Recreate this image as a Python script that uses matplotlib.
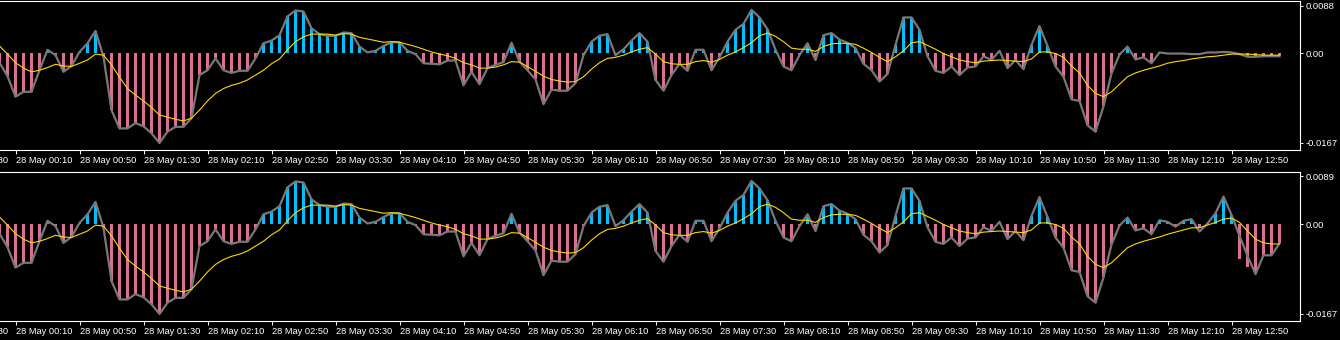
import numpy as np
import matplotlib
matplotlib.use('Agg')
import matplotlib.pyplot as plt

# MACD histogram on 5 min bars, 28 May 00:00 .. 13:20 (values in 1e-4)
# first 145 bars (00:00 .. 11:50) are the same in both windows
hist_head = [
    -18, -43, -81, -72, -72, -32, 6, -4, -35, -24,
    2, 18, 41, -7, -106, -140, -140, -130, -136, -149,
    -167, -146, -137, -137, -121, -41, -32, -10, -32, -37,
    -33, -33, -10, 18, 23, 33, 68, 79, 77, 46,
    35, 32, 32, 38, 37, 12, 1, 4, 13, 20,
    20, 4, -2, -19, -20, -21, -14, -14, -60, -35,
    -58, -28, -22, -17, 19, -16, -32, -49, -95, -68,
    -70, -70, -56, -4, 21, 32, 35, -4, 7, 23,
    37, 21, -50, -70, -41, -20, -33, 6, 6, -32,
    -8, 21, 43, 54, 80, 66, 44, 6, -25, -32,
    -4, 18, -13, 33, 37, 25, 19, 9, -20, -32,
    -53, -39, 15, 66, 66, 43, -6, -33, -37, -25,
    -41, -27, -25, -6, -13, 4, -28, -13, -30, 15,
    50, 13, -25, -44, -86, -89, -134, -146, -99, -38,
    -3, 12, -12, -8, -19,
]
signal_head = [
    13, -2, -18, -28, -35, -32, -27, -21, -24, -25,
    -19, -13, -2, -4, -22, -45, -66, -78, -89, -101,
    -115, -119, -123, -126, -121, -106, -89, -75, -66, -60,
    -56, -50, -41, -32, -20, -11, 6, 21, 30, 35,
    35, 35, 33, 36, 35, 29, 26, 23, 20, 21,
    20, 16, 12, 7, 2, -2, -5, -10, -18, -22,
    -28, -28, -26, -22, -16, -17, -25, -34, -43, -49,
    -52, -54, -53, -44, -30, -18, -10, -8, -4, 2,
    7, 10, -2, -16, -20, -21, -21, -16, -14, -17,
    -12, -4, 2, 10, 19, 32, 37, 31, 21, 9,
    7, 7, 3, 12, 17, 18, 18, 16, 9, 1,
    -8, -16, -7, 4, 19, 21, 14, 7, -1, -7,
    -13, -16, -18, -15, -14, -13, -14, -15, -16, -11,
    2, 2, -1, -8, -24, -37, -60, -75, -81, -72,
    -58, -44, -37, -32, -28,
]

# last 16 bars (11:55 .. 13:20)
hist_tail_top = [1, -1, -1, -1, -2, -2, 1, 1, 2, 1, -2, -7, -7, -6, -6, -6]
signal_tail_top = [-24, -19, -16, -14, -11, -9, -7, -6, -4, -2, -2, -2, -3, -4, -4, -4]

hist_tail_bot = [7, 4, -5, 6, 9, -8, 1, 20, 51, 17, -65, -80, -93, -58, -58, -36]
line_tail_bot = [7, 4, -5, 6, 9, -14, 1, 20, 51, 17, -22, -59, -93, -58, -58, -36]
signal_tail_bot = [-24, -19, -15, -11, -7, -7, -2, 3, 9, 11, 3, -13, -28, -35, -37, -37]

time_labels = ['28 May 00:10', '28 May 00:50', '28 May 01:30', '28 May 02:10',
               '28 May 02:50', '28 May 03:30', '28 May 04:10', '28 May 04:50',
               '28 May 05:30', '28 May 06:10', '28 May 06:50', '28 May 07:30',
               '28 May 08:10', '28 May 08:50', '28 May 09:30', '28 May 10:10',
               '28 May 10:50', '28 May 11:30', '28 May 12:10', '28 May 12:50']
prev_label = '27 May 23:30'

yticks_top = [0.0088, 0.0, -0.0167]
ylabels_top = ['0.0088', '0.00', '-0.0167']
yticks_bot = [0.0089, 0.0, -0.0167]
ylabels_bot = ['0.0089', '0.00', '-0.0167']

POS_CLR = '#00BFFF'
NEG_CLR = '#DB7093'
LINE_CLR = '#787878'
SIG_CLR = '#FFD700'
FG = 'white'
XLAB_SIZE = 6.7

plt.rcParams['font.family'] = ['Liberation Sans', 'DejaVu Sans']

# bar index, 0 = 28 May 00:10
x = np.arange(-2, 159)
tick_pos = np.arange(0, 8 * len(time_labels), 8)


def draw_panel(ax, hist, line, signal, yticks, ylabels):
    hist = np.array(hist) * 1e-4
    line = np.array(line) * 1e-4
    signal = np.array(signal) * 1e-4

    ax.set_facecolor('black')
    colors = [POS_CLR if v > 0 else NEG_CLR for v in hist]
    ax.bar(x, hist, width=0.32, color=colors, antialiased=False, zorder=1)
    ax.plot(x, line, color=LINE_CLR, linewidth=1.6, zorder=2)
    ax.plot(x, signal, color=SIG_CLR, linewidth=0.8, zorder=3)

    ax.set_xlim(-15.5 / 8, (1300 - 15.5) / 8)
    ax.set_ylim(-0.0180, 0.00965)

    for side in ['top', 'right', 'bottom']:
        ax.spines[side].set_color(FG)
        ax.spines[side].set_linewidth(0.8)
    ax.spines['left'].set_visible(False)

    ax.yaxis.tick_right()
    ax.set_yticks(yticks)
    ax.set_yticklabels(ylabels)
    ax.tick_params(axis='y', colors=FG, length=2.5, width=0.7, pad=1.5, labelsize=6.8)

    ax.set_xticks(tick_pos)
    ax.set_xticklabels(time_labels, ha='left')
    ax.tick_params(axis='x', colors=FG, length=3, width=0.7, pad=1.2, labelsize=XLAB_SIZE)

    # label of the tick just left of the window, partly cut off
    ax.annotate(prev_label, xy=(-8, 0), xycoords=ax.get_xaxis_transform(),
                xytext=(0, -(3 + 1.2)), textcoords='offset points',
                ha='left', va='top', fontsize=XLAB_SIZE, color=FG, annotation_clip=False)


fig = plt.figure(figsize=(13.4, 3.4), dpi=100, facecolor='black')
ax1 = fig.add_axes([0, 190 / 340, 1300 / 1340, 149 / 340])
ax2 = fig.add_axes([0, 19 / 340, 1300 / 1340, 149 / 340])

draw_panel(ax1, hist_head + hist_tail_top, hist_head + hist_tail_top,
           signal_head + signal_tail_top, yticks_top, ylabels_top)
draw_panel(ax2, hist_head + hist_tail_bot, hist_head + line_tail_bot,
           signal_head + signal_tail_bot, yticks_bot, ylabels_bot)

fig.savefig('out.png', dpi=100, facecolor='black')
